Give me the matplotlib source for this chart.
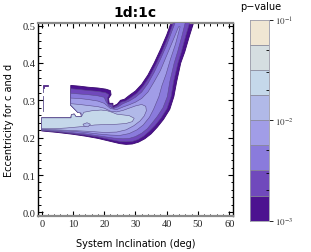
"""Contour map of p-value vs system inclination and eccentricity (1d:1c)."""
import numpy as np
import matplotlib
matplotlib.use("Agg")
import matplotlib.pyplot as plt

plt.rcParams["mathtext.fontset"] = "stix"

# p-value band edges (log spaced, 8 bands from 1e-3 to 1e-1)
levels = 10 ** np.linspace(-3, -1, 9)
band_colors = ["#4c1290", "#7049bc", "#8a7bdc", "#a19de7",
               "#b1b9e8", "#c5d8ea", "#d5dee1", "#f0e6d3"]

# region outlines (inclination deg, eccentricity) where p >= level k
notch = [(0.0, 0.253), (9.4, 0.253), (9.5, 0.262), (10.4, 0.263), (11.0, 0.256),
         (12.7, 0.256), (12.6, 0.266), (11.5, 0.268), (9.3, 0.287)]

lvl1 = notch + [
    (9.3, 0.340), (12, 0.338), (15, 0.335), (18, 0.333), (20.5, 0.330), (22.0, 0.326),
    (22.2, 0.315), (21.4, 0.305), (21.6, 0.292), (22.8, 0.292), (22.8, 0.284),
    (24.2, 0.290), (25.2, 0.300), (26.5, 0.303), (28, 0.313), (30, 0.325), (32, 0.343),
    (34, 0.368), (36, 0.400), (38, 0.436), (40, 0.475), (41.5, 0.51),
    (48.7, 0.51), (47.2, 0.47), (45.8, 0.43), (44.5, 0.40), (43.2, 0.35), (42.3, 0.31),
    (41, 0.276), (39, 0.249), (37, 0.228), (35, 0.210), (33, 0.197), (31, 0.188),
    (29, 0.183), (27, 0.182), (25, 0.184), (22, 0.190), (18, 0.198), (14, 0.204),
    (10, 0.209), (5, 0.214), (0, 0.218)]

lvl2 = notch + [
    (9.3, 0.331), (12, 0.329), (15, 0.326), (18, 0.324), (20.5, 0.320), (21.5, 0.315),
    (21.0, 0.305), (21.2, 0.290), (22.6, 0.288), (22.8, 0.280), (24.3, 0.286),
    (25.4, 0.295), (26.8, 0.298), (28.5, 0.307), (30.5, 0.319), (32.5, 0.338),
    (34.5, 0.363), (36.5, 0.395), (38.5, 0.430), (40.5, 0.470), (42.2, 0.51),
    (47.4, 0.51), (46.0, 0.47), (44.7, 0.43), (43.6, 0.40), (42.2, 0.35), (41.4, 0.31),
    (40.1, 0.278), (38.2, 0.253), (36.3, 0.233), (34.4, 0.217), (32.6, 0.204),
    (30.8, 0.195), (29, 0.190), (27, 0.189), (25, 0.190), (22, 0.195), (18, 0.202),
    (14, 0.207), (10, 0.211), (5, 0.216), (0, 0.219)]

lvl3 = notch + [
    (9.3, 0.319), (12, 0.317), (15, 0.315), (18, 0.312), (20, 0.308), (20.5, 0.298),
    (21.5, 0.285), (23, 0.278), (24.5, 0.283), (26, 0.291), (28, 0.298), (30, 0.308),
    (32, 0.322), (34, 0.345), (36, 0.375), (38, 0.410), (40, 0.448), (41.8, 0.488),
    (42.8, 0.51),
    (46.0, 0.51), (44.8, 0.47), (43.5, 0.43), (42.4, 0.40), (41.0, 0.35), (40.2, 0.31),
    (38.8, 0.280), (37.0, 0.257), (35.4, 0.240), (33.8, 0.224), (32, 0.212), (30, 0.203),
    (28, 0.198), (26, 0.197), (23, 0.199), (18, 0.205), (14, 0.210), (10, 0.213),
    (5, 0.217), (0, 0.220)]

lvl4 = notch + [
    (9.3, 0.306), (12, 0.305), (15, 0.302), (18, 0.298), (20, 0.292), (22, 0.278),
    (24, 0.275), (26, 0.282), (28, 0.288), (30, 0.295), (32, 0.305), (34, 0.322),
    (36, 0.350), (38, 0.380), (40, 0.420), (42, 0.460), (43.8, 0.497),
    (44.3, 0.497), (42.8, 0.45), (41.2, 0.41), (39.8, 0.37), (38.5, 0.34),
    (37.5, 0.31), (35.8, 0.276), (34.5, 0.255), (32.5, 0.234), (30.5, 0.221),
    (28, 0.211), (25, 0.206), (22, 0.207), (18, 0.210), (14, 0.214), (10, 0.217),
    (5, 0.219), (0, 0.222)]

lvl5 = notch + [
    (9.3, 0.291), (12, 0.289), (15, 0.286), (18, 0.283), (20, 0.279), (22, 0.271),
    (24, 0.269), (26, 0.273), (28, 0.279), (30, 0.285), (32, 0.289), (33.3, 0.284),
    (33.5, 0.272), (32.8, 0.258), (31.5, 0.245), (29.5, 0.232), (27, 0.221),
    (24, 0.215), (20, 0.214), (15, 0.217), (10, 0.219), (5, 0.221), (0, 0.223)]

lvl6 = [
    (0.0, 0.253), (9.4, 0.253), (9.5, 0.262), (10.4, 0.263), (11.0, 0.256), (12.7, 0.256),
    (13.5, 0.268), (16, 0.272), (19, 0.274), (21, 0.272), (22.5, 0.268), (24, 0.263),
    (26, 0.261), (28, 0.259), (29.6, 0.252), (29, 0.243), (27, 0.238), (24, 0.236),
    (20, 0.235), (17, 0.234), (15, 0.232), (12, 0.229), (8, 0.226), (4, 0.224),
    (0, 0.224)]

# small lvl5 island inside the core
island = [(13.2, 0.236), (14.5, 0.240), (15.6, 0.236), (14.8, 0.229), (13.6, 0.231)]

# detached fragment at the upper-left corner
frag = [(0.3, 0.342), (2.1, 0.342), (2.1, 0.338), (0.7, 0.338), (0.7, 0.333), (0.3, 0.333)]
frag_line_x = [0.4, 0.4]
frag_line_y = [(0.333, 0.322), (0.312, 0.272)]

fig = plt.figure(figsize=(3.11, 2.53), dpi=100)
ax = fig.add_axes([0.122, 0.142, 0.627, 0.763])

regions = [lvl1, lvl2, lvl3, lvl4, lvl5, lvl6]
for k, poly in enumerate(regions):
    xs, ys = zip(*poly)
    edge = "#3a0a70" if k == 0 else "#5b4c8c"
    ax.fill(xs, ys, facecolor=band_colors[k], edgecolor=edge,
            linewidth=0.6 if k == 0 else 0.4, zorder=2 + k)

xs, ys = zip(*island)
ax.fill(xs, ys, facecolor=band_colors[4], edgecolor="#5b4c8c", linewidth=0.4, zorder=9)

xs, ys = zip(*frag)
ax.fill(xs, ys, facecolor=band_colors[1], edgecolor="#3a0a70", linewidth=0.5, zorder=9)
for x, (y0, y1) in zip(frag_line_x, frag_line_y):
    ax.plot([x, x], [y0, y1], color="#5b4c8c", linewidth=0.6, zorder=9)

ax.set_xlim(-1.2, 61.2)
ax.set_ylim(-0.01, 0.507)
ax.set_xticks(np.arange(0, 61, 10))
ax.set_xticks(np.arange(0, 61, 2), minor=True)
ax.set_yticks(np.arange(0, 0.51, 0.1))
ax.set_yticks(np.arange(0, 0.51, 0.02), minor=True)
ax.set_yticklabels([f"{v:.1f}" for v in np.arange(0, 0.51, 0.1)])
ax.tick_params(which="both", direction="in", top=True, right=True, color="black")
ax.tick_params(which="major", length=3.5, width=0.8, pad=2)
ax.tick_params(which="minor", length=1.8, width=0.7)
for lab in ax.get_xticklabels() + ax.get_yticklabels():
    lab.set_fontfamily("Liberation Serif")
    lab.set_fontsize(7.5)
    lab.set_color("#222222")
for side in ("top", "bottom"):
    ax.spines[side].set_color("#8a8a8a")
    ax.spines[side].set_linewidth(1.6)
for side in ("left", "right"):
    ax.spines[side].set_color("black")
    ax.spines[side].set_linewidth(1.0)

ax.set_xlabel("System Inclination (deg)", fontsize=7, labelpad=7, family="DejaVu Sans")
ax.set_ylabel("Eccentricity for c and d", fontsize=7, labelpad=6, family="DejaVu Sans")
ax.set_title("1d:1c", fontsize=10, fontweight="bold", pad=5)

# colour key
cax = fig.add_axes([0.804, 0.124, 0.062, 0.794])
cax.set_yscale("log")
for k in range(8):
    cax.axhspan(levels[k], levels[k + 1], color=band_colors[k], linewidth=0)
    if 0 < k:
        cax.axhline(levels[k], color="#8a8a9a", linewidth=0.6)
cax.set_xlim(0, 1)
cax.set_ylim(levels[0], levels[-1])
cax.set_xticks([])
cax.yaxis.tick_right()
cax.set_yticks([1e-3, 1e-2, 1e-1])
cax.set_yticklabels(["$10^{-3}$", "$10^{-2}$", "$10^{-1}$"])
cax.set_yticks([2e-3, 3e-3, 5e-3, 2e-2, 3e-2, 5e-2], minor=True)
cax.yaxis.set_minor_formatter(plt.NullFormatter())
cax.tick_params(which="major", direction="out", length=3, width=0.6, pad=1, labelsize=6.5,
                labelcolor="#333333")
cax.tick_params(which="minor", direction="in", length=2, width=0.6)
for s in cax.spines.values():
    s.set_color("#9a9aa8")
    s.set_linewidth(0.6)
fig.text(0.838, 0.972, "p\u2212value", ha="center", va="center", fontsize=7)

fig.savefig("out.png", dpi=100)
